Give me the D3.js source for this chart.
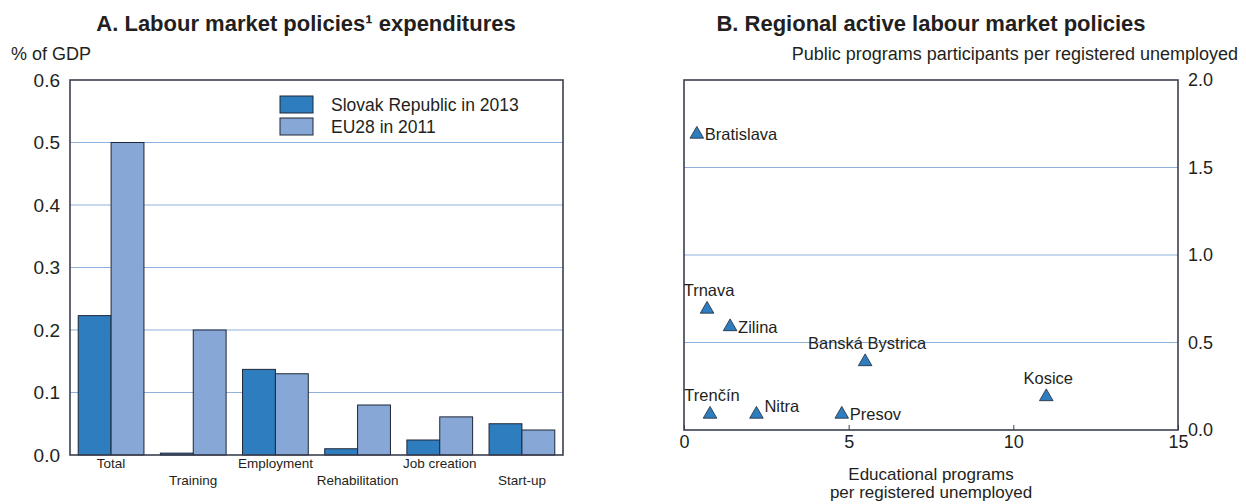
<!DOCTYPE html>
<html>
<head>
<meta charset="utf-8">
<script src="https://cdn.jsdelivr.net/npm/d3@7"></script>
<style>
  body { margin: 0; background: #fff; }
  svg { font-family: "Liberation Sans", Arial, sans-serif; }
</style>
</head>
<body>
<div id="chart"></div>
<script>
// Panel A data
var categories = ["Total", "Training", "Employment", "Rehabilitation", "Job creation", "Start-up"];
var slovak2013 = [0.223, 0.003, 0.137, 0.01, 0.024, 0.05];
var eu2011 = [0.5, 0.2, 0.13, 0.08, 0.061, 0.04];
var seriesNames = ["Slovak Republic in 2013", "EU28 in 2011"];
var yTicksA = [0, 0.1, 0.2, 0.3, 0.4, 0.5, 0.6];

// Panel B data
var regions = ["Bratislava", "Trnava", "Zilina", "Banská Bystrica", "Kosice", "Trenčín", "Nitra", "Presov"];
var educational = [0.39, 0.7, 1.4, 5.5, 11.0, 0.79, 2.2, 4.79];
var publicPrograms = [1.69, 0.69, 0.59, 0.39, 0.19, 0.09, 0.09, 0.09];
var xTicksB = [0, 5, 10, 15];
var yTicksB = [0, 0.5, 1.0, 1.5, 2.0];

// where each region's name sits relative to its marker
var labelSide = { "Bratislava": "right", "Trnava": "above", "Zilina": "right",
  "Banská Bystrica": "above", "Kosice": "above", "Trenčín": "above",
  "Nitra": "upright", "Presov": "right" };

var dark = "#2e7ebf", light = "#87a8d6", ink = "#231f20", frame = "#3b3f4f", grid = "#8fb0dd";

var svg = d3.select("#chart").append("svg")
    .attr("width", 1246)
    .attr("height", 504);

// ---------- Panel A ----------
var a = { left: 70, right: 563, top: 80, bottom: 455 };

var x0 = d3.scaleBand().domain(categories).range([a.left, a.right])
    .paddingInner(0.2).paddingOuter(0.1);
var x1 = d3.scaleBand().domain([0, 1]).range([0, x0.bandwidth()]);
var yA = d3.scaleLinear().domain([0, 0.6]).range([a.bottom, a.top]);

svg.append("text")
    .attr("x", 306).attr("y", 31)
    .attr("text-anchor", "middle")
    .attr("font-size", 22).attr("font-weight", "bold").attr("fill", ink)
    .text("A. Labour market policies¹ expenditures");

svg.append("text")
    .attr("x", 11).attr("y", 60)
    .attr("font-size", 18).attr("fill", ink)
    .text("% of GDP");

// gridlines
svg.append("g").selectAll("line")
    .data(yTicksA.filter(function(d) { return d > 0 && d < 0.6; }))
    .join("line")
    .attr("x1", a.left).attr("x2", a.right)
    .attr("y1", function(d) { return yA(d); })
    .attr("y2", function(d) { return yA(d); })
    .attr("stroke", grid).attr("stroke-width", 1.2);

var yAxisA = svg.append("g")
    .attr("transform", "translate(" + a.left + ",0)")
    .call(d3.axisLeft(yA).tickValues(yTicksA).tickFormat(d3.format(".1f")).tickSize(0).tickPadding(10));
yAxisA.select(".domain").remove();
yAxisA.selectAll("text").attr("font-size", 19).attr("fill", ink).attr("font-family", null);

// bars
var groups = svg.append("g").selectAll("g")
    .data(categories)
    .join("g")
    .attr("transform", function(d) { return "translate(" + x0(d) + ",0)"; });

groups.selectAll("rect")
    .data(function(d, i) { return [slovak2013[i], eu2011[i]]; })
    .join("rect")
    .attr("x", function(d, j) { return x1(j); })
    .attr("width", x1.bandwidth())
    .attr("y", function(d) { return yA(d); })
    .attr("height", function(d) { return yA(0) - yA(d); })
    .attr("fill", function(d, j) { return j === 0 ? dark : light; })
    .attr("stroke", "#1f2636").attr("stroke-width", 1);

// frame
svg.append("rect")
    .attr("x", a.left).attr("y", a.top)
    .attr("width", a.right - a.left).attr("height", a.bottom - a.top)
    .attr("fill", "none").attr("stroke", frame).attr("stroke-width", 1.6);

// category labels, staggered
var xAxisA = svg.append("g")
    .attr("transform", "translate(0," + a.bottom + ")")
    .call(d3.axisBottom(x0).tickSize(0).tickPadding(4));
xAxisA.select(".domain").remove();
xAxisA.selectAll("text")
    .attr("font-size", 13.5).attr("fill", ink).attr("font-family", null)
    .attr("dy", function(d, i) { return i % 2 ? "1.92em" : "0.68em"; });

// legend
var legend = svg.append("g").selectAll("g")
    .data(seriesNames)
    .join("g")
    .attr("transform", function(d, i) { return "translate(280," + (96 + i * 22) + ")"; });
legend.append("rect")
    .attr("width", 33).attr("height", 17)
    .attr("fill", function(d, i) { return i === 0 ? dark : light; })
    .attr("stroke", "#1f2636").attr("stroke-width", 1);
legend.append("text")
    .attr("x", 51).attr("y", 15)
    .attr("font-size", 17.5).attr("fill", ink)
    .text(function(d) { return d; });

// ---------- Panel B ----------
var b = { left: 684, right: 1178, top: 80, bottom: 430 };

var xB = d3.scaleLinear().domain([0, 15]).range([b.left, b.right]);
var yB = d3.scaleLinear().domain([0, 2]).range([b.bottom, b.top]);

svg.append("text")
    .attr("x", 931).attr("y", 31)
    .attr("text-anchor", "middle")
    .attr("font-size", 22).attr("font-weight", "bold").attr("fill", ink)
    .text("B. Regional active labour market policies");

svg.append("text")
    .attr("x", 1238).attr("y", 60)
    .attr("text-anchor", "end")
    .attr("font-size", 18).attr("fill", ink)
    .text("Public programs participants per registered unemployed");

svg.append("g").selectAll("line")
    .data(yTicksB.filter(function(d) { return d > 0 && d < 2; }))
    .join("line")
    .attr("x1", b.left).attr("x2", b.right)
    .attr("y1", function(d) { return yB(d); })
    .attr("y2", function(d) { return yB(d); })
    .attr("stroke", grid).attr("stroke-width", 1.2);

var yAxisB = svg.append("g")
    .attr("transform", "translate(" + b.right + ",0)")
    .call(d3.axisRight(yB).tickValues(yTicksB).tickFormat(d3.format(".1f")).tickSize(0).tickPadding(10));
yAxisB.select(".domain").remove();
yAxisB.selectAll("text").attr("font-size", 18).attr("fill", ink).attr("font-family", null);

var xAxisB = svg.append("g")
    .attr("transform", "translate(0," + b.bottom + ")")
    .call(d3.axisBottom(xB).tickValues(xTicksB).tickSize(-5).tickPadding(5));
xAxisB.select(".domain").remove();
xAxisB.selectAll("line").attr("stroke", frame);
xAxisB.selectAll("text").attr("font-size", 18).attr("fill", ink).attr("font-family", null);

svg.append("rect")
    .attr("x", b.left).attr("y", b.top)
    .attr("width", b.right - b.left).attr("height", b.bottom - b.top)
    .attr("fill", "none").attr("stroke", frame).attr("stroke-width", 1.6);

var xTitle = svg.append("text")
    .attr("x", 931).attr("y", 480)
    .attr("text-anchor", "middle")
    .attr("font-size", 17).attr("fill", ink);
xTitle.append("tspan").attr("x", 931).text("Educational programs");
xTitle.append("tspan").attr("x", 931).attr("dy", 18).text("per registered unemployed");

// markers
var tri = d3.symbol().type(d3.symbolTriangle).size(80);
var pts = svg.append("g").selectAll("g")
    .data(regions)
    .join("g")
    .attr("transform", function(d, i) {
      return "translate(" + xB(educational[i]) + "," + yB(publicPrograms[i]) + ")";
    });

pts.append("path")
    .attr("d", tri)
    .attr("fill", dark)
    .attr("stroke", "#1f2636").attr("stroke-width", 0.8);

pts.append("text")
    .attr("font-size", 16.5).attr("fill", ink)
    .attr("text-anchor", function(d) { return labelSide[d] === "above" ? "middle" : "start"; })
    .attr("x", function(d) {
      var s = labelSide[d];
      return s === "right" ? 8 : s === "upright" ? 8 : 2;
    })
    .attr("y", function(d) {
      var s = labelSide[d];
      return s === "right" ? 6 : s === "upright" ? -2 : -13;
    })
    .text(function(d) { return d; });
</script>
</body>
</html>
